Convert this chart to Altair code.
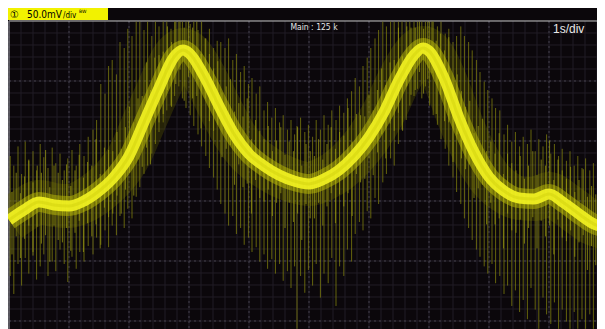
import altair as alt
import pandas as pd
import numpy as np

# ---- data (time in s, signal in mV) ----
trace_t = [0.0, 0.25, 0.5, 0.75, 1.0, 1.25, 1.5, 1.75, 2.0, 2.25, 2.5, 2.75, 2.9, 3.0,
           3.25, 3.5, 3.75, 4.0, 4.25, 4.5, 4.75, 5.0, 5.25, 5.5, 5.75, 6.0, 6.25, 6.5,
           6.75, 6.9, 7.0, 7.25, 7.5, 7.75, 8.0, 8.25, 8.5, 8.75, 9.0, 9.25, 9.5, 9.75, 9.95]
trace_mv = [16.7, 25.0, 31.7, 29.2, 28.3, 32.5, 40.8, 52.5, 70.0, 98.3, 126.7, 152.5, 158.3,
            155.8, 136.7, 111.7, 88.3, 71.7, 61.7, 54.2, 49.2, 46.7, 50.8, 58.3, 70.0, 85.8,
            106.7, 133.3, 154.2, 160.0, 157.5, 135.0, 101.7, 73.3, 52.5, 40.8, 35.0, 34.2,
            38.3, 30.8, 21.7, 13.3, 10.0]

# long noise spikes
spike_t = [0.02, 0.08, 0.15, 0.21, 0.27, 0.33, 0.40, 0.46, 0.52, 0.58, 0.65, 0.72, 0.78,
           0.85, 0.92, 0.98, 1.05, 1.12, 1.18, 1.25, 1.32, 1.40, 1.46,
           1.53, 1.60, 1.66, 1.72, 1.79, 1.85, 1.92, 1.98, 2.05, 2.12, 2.18,
           2.25, 2.31, 2.38, 2.44, 2.50, 2.57, 2.63, 2.70, 2.76, 2.83, 2.89, 2.95, 3.02,
           3.08, 3.15, 3.21, 3.28, 3.34, 3.41, 3.47,
           3.53, 3.60, 3.66, 3.73, 3.79, 3.86, 3.92, 3.99, 4.05, 4.12, 4.18, 4.25, 4.31,
           4.38, 4.44,
           4.51, 4.57, 4.64, 4.70, 4.76, 4.80, 4.86, 4.93, 4.99, 5.06, 5.12, 5.19, 5.25,
           5.32, 5.38, 5.45, 5.51, 5.58, 5.64, 5.71,
           5.77, 5.84, 5.90, 5.97, 6.03, 6.10, 6.16, 6.23, 6.29, 6.36, 6.42, 6.49, 6.55,
           6.62, 6.68, 6.75, 6.81, 6.88, 6.94, 7.01, 7.07, 7.14, 7.20, 7.27, 7.33, 7.40, 7.46,
           7.53, 7.59, 7.66, 7.72, 7.79, 7.85, 7.92, 7.98, 8.05, 8.11, 8.18,
           8.25, 8.31, 8.38, 8.44, 8.51, 8.57, 8.64, 8.70, 8.77, 8.83, 8.90, 8.96, 9.03,
           9.09, 9.16, 9.22, 9.29, 9.35, 9.42, 9.48, 9.55, 9.61, 9.68, 9.74, 9.81, 9.87, 9.92]
spike_hi = [70, 62, 78, 55, 82, 66, 74, 58, 80, 69, 60, 77, 64,
            72, 58, 68, 75, 62, 80, 70, 86, 92, 100,
            130, 122, 145, 150, 138, 165, 160, 176, 170, 182, 182,
            175, 182, 170, 182, 178, 182, 182, 176, 182, 182, 182, 182, 180,
            182, 175, 182, 168, 176, 160, 166,
            165, 160, 168, 150, 155, 140, 145, 130, 135, 122, 128, 108, 115,
            102, 110,
            98, 104, 92, 100, 88, 95, 102, 90, 96, 86, 100, 92, 104,
            96, 108, 100, 112, 106, 118, 124,
            135, 128, 145, 152, 160, 168, 175, 182, 178, 182, 182, 182, 182,
            182, 182, 182, 182, 182, 182, 182, 182, 178, 182, 172, 176, 165, 170,
            178, 170, 165, 158, 150, 140, 132, 125, 118, 110, 108,
            88, 96, 82, 90, 78, 86, 80, 92, 74, 84, 78, 88, 72,
            80, 70, 76, 66, 74, 62, 70, 60, 68, 58, 64, 54, 62, 56]
spike_lo = [-30, -45, -20, -38, -15, -28, -10, -33, -22, -12, -30, -18, -26,
            -8, -20, -35, -14, -24, -10, -18, -5, -12, 2,
            -4, 8, -6, 12, 4, 20, 10, 26, 18, 36, 44,
            55, 62, 72, 80, 90, 98, 108, 112, 120, 128, 118, 110, 104,
            95, 88, 78, 70, 60, 52, 42,
            30, 22, 12, 20, 5, 10, -4, 2, -10, -6, -18, -12, -24,
            -16, -28,
            -20, -34, -26, -40, -22, -74, -30, -44, -25, -38, -20, -48, -28,
            -36, -15, -55, -22, -30, -8, -18,
            5, 15, 8, 24, 18, 35, 30, 48, 55, 68, 62, 80, 92,
            100, 112, 120, 126, 118, 128, 112, 104, 96, 84, 76, 62, 52, 40,
            30, 18, 10, 0, -8, -14, -22, -28, -20, -36, -30,
            -45, -38, -55, -42, -60, -50, -66, -40, -58, -74, -48, -62, -70,
            -52, -74, -58, -68, -74, -60, -74, -66, -74, -62, -74, -70, -74, -74]

# short noise spikes close to the trace
short_t = [0.05, 0.12, 0.19, 0.26, 0.33, 0.40, 0.47, 0.54, 0.61, 0.68, 0.75, 0.82, 0.89,
           0.96, 1.03, 1.10, 1.17, 1.24, 1.31, 1.38, 1.45, 1.52, 1.59, 1.66, 1.73, 1.80,
           1.87, 1.94, 2.01, 2.08, 2.15, 2.22, 2.29, 2.36, 2.43, 2.50, 2.57, 2.64, 2.71,
           2.78, 2.85, 2.92, 2.99, 3.06, 3.13, 3.20, 3.27, 3.34, 3.41, 3.48, 3.55, 3.62,
           3.69, 3.76, 3.83, 3.90, 3.97, 4.04, 4.11, 4.18, 4.25, 4.32, 4.39, 4.46, 4.53,
           4.60, 4.67, 4.74, 4.81, 4.88, 4.95, 5.02, 5.09, 5.16, 5.23, 5.30, 5.37, 5.44,
           5.51, 5.58, 5.65, 5.72, 5.79, 5.86, 5.93, 6.00, 6.07, 6.14, 6.21, 6.28, 6.35,
           6.42, 6.49, 6.56, 6.63, 6.70, 6.77, 6.84, 6.91, 6.98, 7.05, 7.12, 7.19, 7.26,
           7.33, 7.40, 7.47, 7.54, 7.61, 7.68, 7.75, 7.82, 7.89, 7.96, 8.03, 8.10, 8.17,
           8.24, 8.31, 8.38, 8.45, 8.52, 8.59, 8.66, 8.73, 8.80, 8.87, 8.94, 9.01, 9.08,
           9.15, 9.22, 9.29, 9.36, 9.43, 9.50, 9.57, 9.64, 9.71, 9.78, 9.85, 9.92]
short_hi = [40, 56, 39, 53, 67, 48, 62, 56, 75, 44, 62, 56, 50,
            63, 45, 58, 71, 52, 65, 62, 84, 55, 77, 75, 74, 90,
            76, 94, 111, 98, 118, 120, 148, 125, 152, 154, 157, 178, 165,
            182, 182, 177, 182, 177, 182, 155, 168, 155, 143, 149, 123, 128,
            134, 107, 114, 103, 118, 84, 100, 91, 84, 95, 74, 83, 94,
            71, 82, 74, 94, 62, 80, 74, 70, 84, 67, 80, 94, 76,
            90, 87, 110, 82, 105, 104, 103, 121, 108, 125, 143, 129, 148,
            150, 177, 153, 178, 177, 177, 182, 176, 182, 182, 166, 172, 158,
            169, 127, 138, 124, 111, 116, 89, 95, 101, 74, 82, 72, 89,
            55, 72, 64, 58, 70, 51, 62, 74, 54, 67, 62, 83, 50,
            67, 58, 51, 61, 40, 50, 59, 36, 45, 38, 56, 24]
short_lo = [-12, 3, -15, 1, 12, -13, 11, -3, 4, -18, 12, 0, -2,
            10, -9, 6, 16, -10, 14, 3, 13, -7, 27, 19, 22, 37,
            22, 42, 56, 37, 67, 61, 77, 63, 102, 98, 105, 125, 111,
            130, 142, 116, 136, 118, 120, 93, 118, 99, 91, 96, 69, 76,
            79, 46, 63, 44, 47, 22, 50, 35, 32, 42, 20, 31, 39,
            10, 31, 15, 22, 0, 30, 18, 18, 31, 12, 28, 39, 14,
            38, 28, 39, 20, 55, 48, 51, 68, 54, 73, 88, 68, 97,
            91, 106, 91, 128, 121, 125, 140, 122, 134, 139, 105, 121, 99,
            98, 65, 88, 68, 59, 63, 35, 43, 46, 13, 31, 13, 18,
            -7, 22, 8, 6, 17, -3, 10, 19, -7, 16, 3, 12, -12,
            17, 2, -1, 8, -14, -2, 4, -25, -5, -21, -14, -37]

channel_num = "\u2460"
channel_scale = "50.0mV"
channel_unit = "/div"
bw_label = "BW"
acq_label = "Main : 125 k"
timebase_label = "1s/div"

# ---- scales (1 s/div, 50 mV/div, 60 px per division) ----
X_DOMAIN = [-0.0167, 9.8]
Y_DOMAIN = [-74.17, 193.33]
xs = alt.Scale(domain=X_DOMAIN, nice=False, zero=False)
ys = alt.Scale(domain=Y_DOMAIN, nice=False, zero=False)
W, H = 589, 321
Y_TOP = 182.5
Y_BOT = Y_DOMAIN[0]
X_END = X_DOMAIN[1]

trace = pd.DataFrame({"t": trace_t, "mv": trace_mv})
spikes = pd.DataFrame({"t": spike_t, "hi": spike_hi, "lo": spike_lo})
shorts = pd.DataFrame({"t": short_t, "hi": short_hi, "lo": short_lo})

minor_x = pd.DataFrame({"t": np.round(np.arange(0, 10, 0.2), 2), "a": Y_TOP, "b": Y_BOT})
major_x = pd.DataFrame({"t": np.arange(0, 11, 1.0), "a": Y_TOP, "b": Y_BOT})
minor_y = pd.DataFrame({"mv": Y_TOP - np.arange(1, 30) * 10.0, "a": 0.0, "b": X_END})
major_y = pd.DataFrame({"mv": Y_TOP - np.arange(1, 6) * 50.0, "a": 0.0, "b": X_END})
top_line = pd.DataFrame({"mv": [Y_TOP], "a": [0.0], "b": [X_END]})
left_line = pd.DataFrame({"t": [0.0], "a": [Y_TOP], "b": [Y_BOT]})
one = pd.DataFrame({"k": [0]})


def X(f="t"):
    return alt.X(f, type="quantitative", scale=xs, axis=None)


def Y(f="mv"):
    return alt.Y(f, type="quantitative", scale=ys, axis=None)


def vrule(df, **kw):
    return alt.Chart(df).mark_rule(**kw).encode(x=X("t"), y=Y("a"), y2="b")


def hrule(df, **kw):
    return alt.Chart(df).mark_rule(**kw).encode(y=Y("mv"), x=X("a"), x2="b")


def txt(s, x, y, size, color, font="DejaVu Sans Condensed", align="left"):
    return alt.Chart(one).mark_text(align=align, baseline="middle", font=font,
                                    fontSize=size, color=color).encode(
        x=alt.value(x), y=alt.value(y), text=alt.value(s))


g_minor_x = vrule(minor_x, color="#211d26", strokeWidth=1)
g_major_x = vrule(major_x, color="#46424e", strokeWidth=1, strokeDash=[2, 3])
g_minor_y = hrule(minor_y, color="#211d26", strokeWidth=1)
g_major_y = hrule(major_y, color="#46424e", strokeWidth=1, strokeDash=[2, 3])
border_top = hrule(top_line, color="#c8c8c8", strokeWidth=1)
border_left = vrule(left_line, color="#6e6c74", strokeWidth=1.5)

haze = alt.Chart(trace).mark_line(color="#5e5e00", strokeWidth=44, opacity=0.33,
                                  interpolate="monotone", clip=True).encode(x=X(), y=Y())
spike_layer = alt.Chart(spikes).mark_rule(color="#83830e", strokeWidth=1, opacity=0.75,
                                          clip=True).encode(x=X(), y=Y("hi"), y2="lo")
short_layer = alt.Chart(shorts).mark_rule(color="#a4a414", strokeWidth=1, opacity=0.7,
                                          clip=True).encode(x=X(), y=Y("hi"), y2="lo")
band_outer = alt.Chart(trace).mark_line(color="#bcbc08", strokeWidth=20, opacity=0.5,
                                        interpolate="monotone", clip=True).encode(x=X(), y=Y())
band_core = alt.Chart(trace).mark_line(color="#f2f222", strokeWidth=11, opacity=0.92,
                                       interpolate="monotone", clip=True).encode(x=X(), y=Y())
band_mid = alt.Chart(trace).mark_line(color="#d6d610", strokeWidth=3, opacity=0.6,
                                      interpolate="monotone", clip=True).encode(x=X(), y=Y())

label_box = alt.Chart(one).mark_rect(color="#f2f200").encode(
    x=alt.value(0), x2=alt.value(100), y=alt.value(0), y2=alt.value(12))

chart = alt.layer(
    g_minor_x, g_minor_y, g_major_x, g_major_y, border_top, border_left,
    haze, spike_layer, short_layer, band_outer, band_core, band_mid,
    label_box,
    txt(channel_num, 2, 6.5, 10, "#000000", font="DejaVu Sans"),
    txt(channel_scale, 19, 6.5, 10, "#000000"),
    txt(channel_unit, 55, 7.5, 8, "#000000"),
    txt(bw_label, 71, 4, 4.5, "#000000", font="DejaVu Sans"),
    txt(acq_label, 306, 19, 8.5, "#e6e6e6", align="center"),
    txt(timebase_label, 545, 21, 12, "#e8e8e8", font="Liberation Sans"),
).properties(
    width=W, height=H, padding=0, background="#0b070b",
    autosize=alt.AutoSizeParams(type="none"),
).configure_view(stroke=None, fill="#0b070b")

chart.save("out.html", embed_options={"renderer": "svg", "actions": False})
